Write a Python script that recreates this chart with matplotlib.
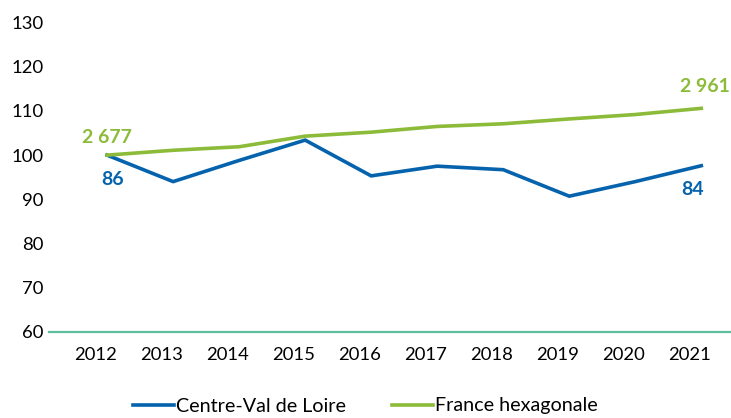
import matplotlib
matplotlib.use("Agg")
import matplotlib.pyplot as plt
import matplotlib.transforms as mtransforms

years = ["2012", "2013", "2014", "2015", "2016", "2017", "2018", "2019", "2020", "2021"]
centre = [100.0, 94.0, 98.8, 103.4, 95.3, 97.5, 96.7, 90.7, 94.0, 97.6]
france = [100.0, 101.1, 101.9, 104.3, 105.2, 106.5, 107.1, 108.2, 109.2, 110.6]
centre_labels = ["86", "84"]
france_labels = ["2 677", "2 961"]
yticks = [60, 70, 80, 90, 100, 110, 120, 130]

blue = "#0563AE"
green = "#8CBB3A"
axis_col = "#5CBFA0"

plt.rcParams['font.family'] = ['Lato', 'DejaVu Sans']

fig = plt.figure(figsize=(7.31, 4.18), dpi=100)
ax = fig.add_axes([49/731, (418-331.7)/418, (731-49)/731, (331.7-22.7)/418])

x = list(range(len(years)))
ax.plot(x, centre, color=blue, lw=2.6, solid_joinstyle='miter', label="Centre-Val de Loire")
ax.plot(x, france, color=green, lw=2.6, solid_joinstyle='miter', label="France hexagonale")

ax.set_ylim(60, 130)
ax.set_xlim(-0.88, 9.45)
ax.set_yticks(yticks)
ax.set_xticks(x)
ax.set_xticklabels(years)
ax.tick_params(axis='both', length=0, labelsize=13.3, colors='#000000')
ax.tick_params(axis='x', pad=11)
ax.tick_params(axis='y', pad=4)

offset = mtransforms.ScaledTranslation(-12/100, 0, fig.dpi_scale_trans)
for lab in ax.get_xticklabels():
    lab.set_transform(lab.get_transform() + offset)

for s in ['top', 'right', 'left']:
    ax.spines[s].set_visible(False)
ax.spines['bottom'].set_color(axis_col)
ax.spines['bottom'].set_linewidth(1.6)

# data labels
ax.annotate(france_labels[0], (x[0], france[0]), xytext=(0, 18), textcoords='offset pixels',
            ha='center', va='center', color=green, fontsize=14, fontweight='bold')
ax.annotate(france_labels[1], (x[-1], france[-1]), xytext=(4, 22), textcoords='offset pixels',
            ha='center', va='center', color=green, fontsize=14, fontweight='bold')
ax.annotate(centre_labels[0], (x[0], centre[0]), xytext=(5, -24), textcoords='offset pixels',
            ha='center', va='center', color=blue, fontsize=14, fontweight='bold')
ax.annotate(centre_labels[1], (x[-1], centre[-1]), xytext=(-9, -24), textcoords='offset pixels',
            ha='center', va='center', color=blue, fontsize=14, fontweight='bold')

fig.legend(loc='center', bbox_to_anchor=(0.5, (418-406)/418), ncol=2, frameon=False,
           fontsize=14.2, handlelength=2.1, handletextpad=0.1, columnspacing=2.3,
           borderaxespad=0)

fig.savefig("out.png", dpi=100)
